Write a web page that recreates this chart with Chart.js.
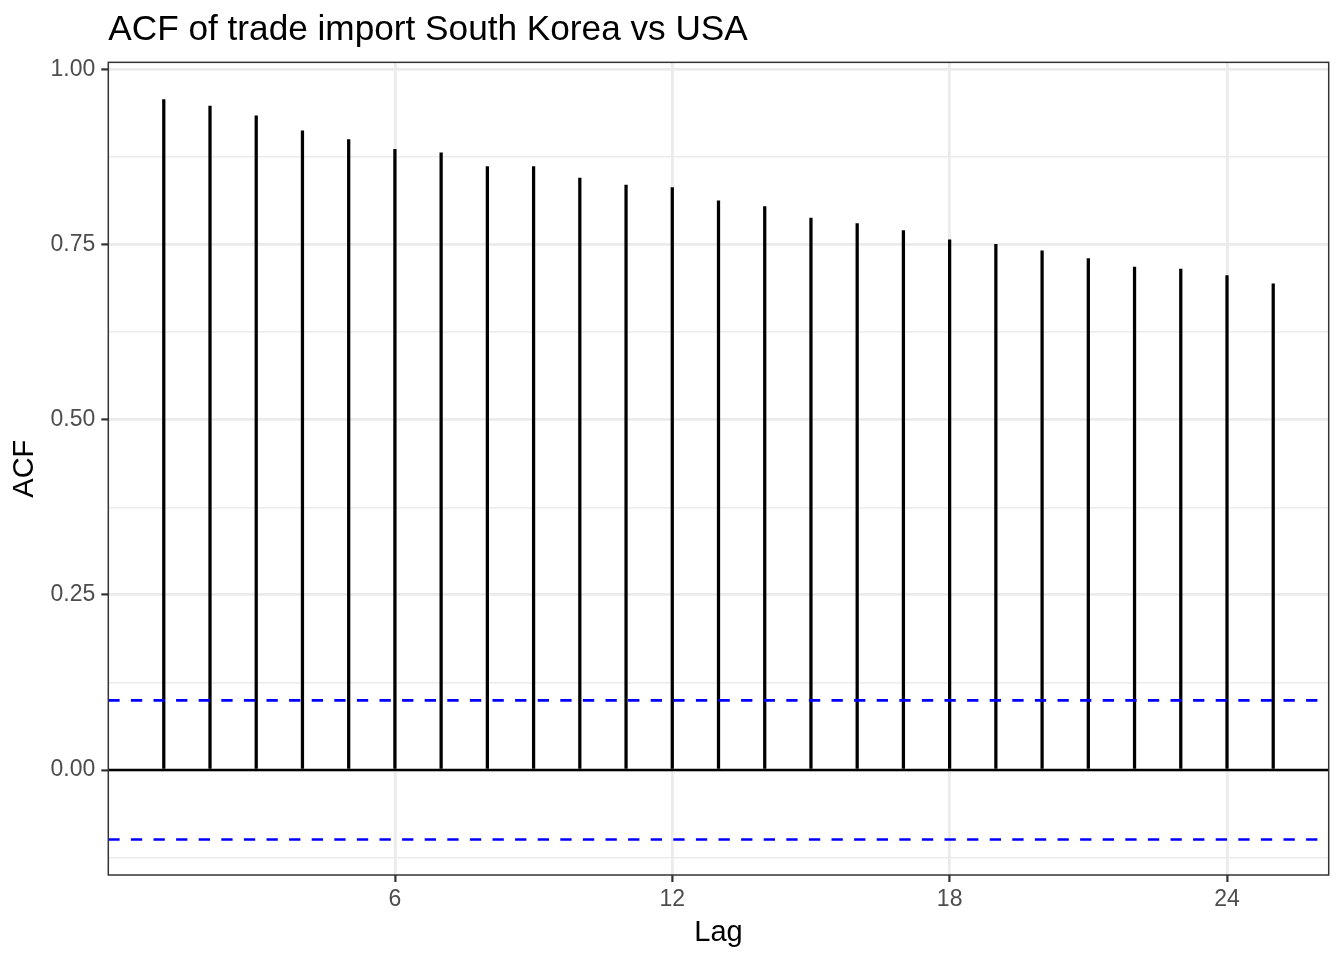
<!DOCTYPE html>
<html>
<head>
<meta charset="utf-8">
<script src="https://cdn.jsdelivr.net/npm/chart.js@4"></script>
<style>
  html,body{margin:0;padding:0;background:#fff;}
  #wrap{width:1344px;height:960px;}
</style>
</head>
<body>
<div id="wrap"><canvas id="acfChart"></canvas></div>
<script>
// dati
const lags = [1,2,3,4,5,6,7,8,9,10,11,12,13,14,15,16,17,18,19,20,21,22,23,24,25];
const acfValues = [0.957,0.948,0.934,0.9125,0.900,0.886,0.881,0.8615,0.8615,0.845,0.835,0.8315,
                   0.8125,0.8045,0.788,0.780,0.770,0.757,0.7505,0.741,0.730,0.718,0.715,0.706,0.694];
const ciBound = 0.0993;
const xBreaks = [6,12,18,24];
const yMajor = [0,0.25,0.5,0.75,1.0];
const yMinor = [-0.125,0.125,0.375,0.625,0.875];

const FONT = "'Liberation Sans', Arial, Helvetica, sans-serif";
const isMajor = v => yMajor.some(m => Math.abs(m - v) < 1e-9);

// linee orizzontali (zero + intervallo di confidenza) e bordo pannello
const panelPlugin = {
  id: "panel",
  afterDatasetsDraw(chart){
    const {ctx, chartArea:a, scales:{y}} = chart;
    ctx.save();
    ctx.beginPath(); ctx.rect(a.left, a.top, a.right-a.left, a.bottom-a.top); ctx.clip();
    ctx.lineWidth = 2.6;
    ctx.strokeStyle = "#000";
    const y0 = y.getPixelForValue(0);
    ctx.beginPath(); ctx.moveTo(a.left, y0); ctx.lineTo(a.right, y0); ctx.stroke();
    ctx.strokeStyle = "#0000ff";
    ctx.setLineDash([11.3, 11.3]);
    [ciBound, -ciBound].forEach(v=>{
      const py = y.getPixelForValue(v);
      ctx.beginPath(); ctx.moveTo(a.left, py); ctx.lineTo(a.right, py); ctx.stroke();
    });
    ctx.restore();
  },
  afterDraw(chart){
    const {ctx, chartArea:a} = chart;
    ctx.save();
    ctx.strokeStyle = "#333333";
    ctx.lineWidth = 1.5;
    ctx.strokeRect(a.left, a.top, a.right-a.left, a.bottom-a.top);
    ctx.restore();
  }
};

new Chart(document.getElementById("acfChart"), {
  type: "bar",
  data: {
    datasets: [{
      data: lags.map((l,i)=>({x:l, y:acfValues[i]})),
      backgroundColor: "#000",
      borderWidth: 0,
      barThickness: 2.6
    }]
  },
  options: {
    responsive: true,
    maintainAspectRatio: false,
    animation: false,
    layout: {padding: {left:0, right:15.3, top:0, bottom:0}},
    plugins: {
      legend: {display:false},
      tooltip: {enabled:false},
      title: {
        display: true,
        text: "ACF of trade import South Korea vs USA",
        align: "start",
        fullSize: false,
        color: "#000",
        font: {family: FONT, size: 35.2, weight: "normal", lineHeight: 1.2},
        padding: {top: 9.5, bottom: 10.6}
      }
    },
    scales: {
      x: {
        type: "linear",
        min: -0.2, max: 26.2,
        offset: false,
        afterBuildTicks: s => { s.ticks = xBreaks.map(v=>({value:v})); },
        afterFit: s => { s.height = 85; },
        border: {display:false},
        grid: {offset:false, color:"#ebebeb", lineWidth:2.8, tickColor:"#333333", tickWidth:2.2, tickLength:7},
        ticks: {
          autoSkip:false, maxRotation:0, padding:4, color:"#4d4d4d",
          font:{family:FONT, size:23},
          callback: v => String(v)
        },
        title: {
          display:true, text:"Lag", color:"#000",
          font:{family:FONT, size:29, lineHeight:1.2},
          padding:{top:0, bottom:10}
        }
      },
      y: {
        type: "linear",
        min: -0.150, max: 1.0103,
        afterBuildTicks: s => { s.ticks = [...yMinor, ...yMajor].sort((a,b)=>a-b).map(v=>({value:v})); },
        afterFit: s => { s.width = 108.3; },
        border: {display:false},
        grid: {
          color: "#ebebeb",
          lineWidth: c => isMajor(c.tick.value) ? 2.8 : 1.4,
          tickColor: c => isMajor(c.tick.value) ? "#333333" : "rgba(0,0,0,0)",
          tickWidth: 2.2,
          tickLength: 7
        },
        ticks: {
          autoSkip:false, padding:6, color:"#4d4d4d",
          font:{family:FONT, size:23},
          callback: v => isMajor(v) ? v.toFixed(2) : ""
        },
        title: {
          display:true, text:"ACF", color:"#000",
          font:{family:FONT, size:29, lineHeight:1.2},
          padding:{top:8, bottom:0}
        }
      }
    }
  },
  plugins: [panelPlugin]
});
</script>
</body>
</html>
